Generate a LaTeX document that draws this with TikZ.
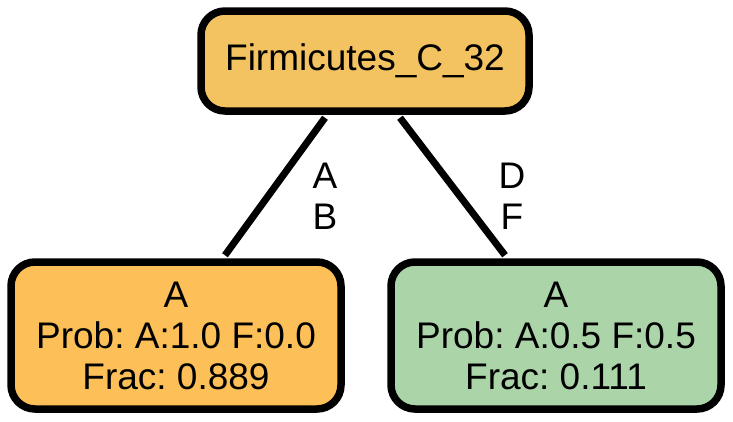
\documentclass[tikz,border=0pt]{standalone}
\usepackage{fontspec}
\setmainfont{Liberation Sans}
\frenchspacing
\definecolor{rootfill}{HTML}{F3C261}
\definecolor{leftfill}{HTML}{FDBF57}
\definecolor{rightfill}{HTML}{ABD5A9}
\begin{document}
\begin{tikzpicture}[x=1pt,y=1pt,
  treenode/.style={draw=black, line width=7.5pt, rounded corners=24pt, inner sep=0pt,
    align=center, font=\fontsize{37}{41}\selectfont\frenchspacing},
  edgelab/.style={align=center, font=\fontsize{37}{41}\selectfont, inner sep=0pt},
  conn/.style={draw=black, line width=7pt}]
\useasboundingbox (0,0) rectangle (733,-421);
\node[treenode, fill=rootfill, minimum width=328pt, minimum height=100pt] (root) at (365,-61) {Firmicutes\_C\_32};
\node[treenode, fill=leftfill, minimum width=330pt, minimum height=147pt] (left) at (176,-335.5) {A\\Prob: A:1.0 F:0.0\\Frac: 0.889};
\node[treenode, fill=rightfill, minimum width=330pt, minimum height=147pt] (right) at (556,-335.5) {A\\Prob: A:0.5 F:0.5\\Frac: 0.111};
\draw[conn] ([xshift=-40pt,yshift=-3pt]root.south) -- ([xshift=49pt,yshift=3pt]left.north);
\draw[conn] ([xshift=35pt,yshift=-3pt]root.south) -- ([xshift=-51pt,yshift=3pt]right.north);
\node[edgelab] (lab1) at (325,-196) {A\\B};
\node[edgelab] (lab2) at (512,-196) {D\\F};
\end{tikzpicture}
\end{document}
